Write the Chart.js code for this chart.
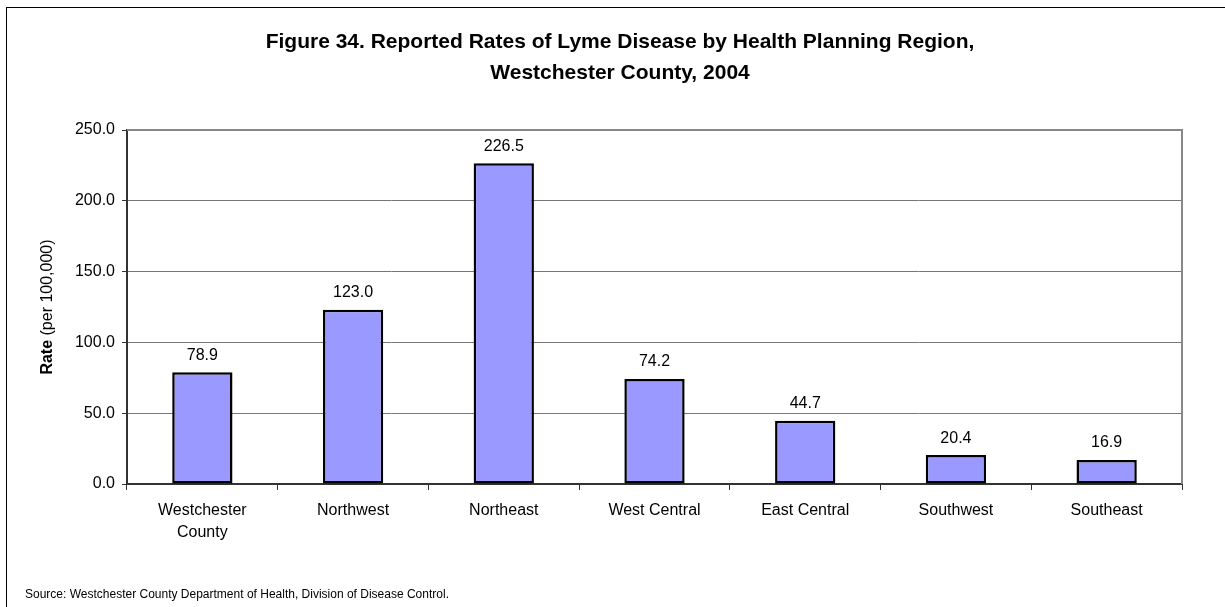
<!DOCTYPE html>
<html>
<head>
<meta charset="utf-8">
<script src="https://cdn.jsdelivr.net/npm/chart.js@4.4.1/dist/chart.umd.min.js"></script>
<style>
  html, body { margin: 0; padding: 0; background: #fff; }
  #wrap { width: 1225px; height: 607px; }
</style>
</head>
<body>
<div id="wrap"><canvas id="lymeChart" width="1225" height="607"></canvas></div>
<script>
// chart data
const regions = [['Westchester', 'County'], 'Northwest', 'Northeast', 'West Central', 'East Central', 'Southwest', 'Southeast'];
const rates = [78.9, 123.0, 226.5, 74.2, 44.7, 20.4, 16.9];
const yTicks = [0, 50, 250];
const titleLines = ['Figure 34. Reported Rates of Lyme Disease by Health Planning Region,', 'Westchester County, 2004'];
const sourceNote = 'Source: Westchester County Department of Health, Division of Disease Control.';

const FONT = "'Liberation Sans', Arial, sans-serif";

// frame, title, plot box, y-axis title, value labels and source line
const extrasPlugin = {
  id: 'extras',
  afterDraw(chart) {
    const ctx = chart.ctx;
    const area = chart.chartArea;
    ctx.save();

    // outer frame (only top/left visible in the picture)
    ctx.strokeStyle = '#000';
    ctx.lineWidth = 1;
    ctx.strokeRect(6.5, 7.5, 1400, 800);

    // title, centred on the page rather than the plot
    ctx.fillStyle = '#000';
    ctx.font = 'bold 21px ' + FONT;
    ctx.textAlign = 'center';
    ctx.textBaseline = 'middle';
    titleLines.forEach((line, i) => ctx.fillText(line, 620, 42 + i * 31));

    // plot area top + right edge
    ctx.strokeStyle = '#888';
    ctx.lineWidth = 2;
    ctx.beginPath();
    ctx.moveTo(area.left, area.top);
    ctx.lineTo(area.right, area.top);
    ctx.lineTo(area.right, area.bottom);
    ctx.stroke();

    // value labels above bars
    ctx.font = '16px ' + FONT;
    ctx.textBaseline = 'bottom';
    const meta = chart.getDatasetMeta(0);
    meta.data.forEach((bar, i) => {
      ctx.fillText(rates[i].toFixed(1), bar.x, bar.y - 9);
    });

    // y axis title: bold "Rate" + normal rest
    ctx.translate(48, (area.top + area.bottom) / 2);
    ctx.rotate(-Math.PI / 2);
    ctx.textBaseline = 'middle';
    ctx.textAlign = 'left';
    ctx.font = 'bold 16px ' + FONT;
    const w1 = ctx.measureText('Rate').width;
    ctx.font = '16px ' + FONT;
    const w2 = ctx.measureText(' (per 100,000)').width;
    const x0 = -(w1 + w2) / 2;
    ctx.font = 'bold 16px ' + FONT;
    ctx.fillText('Rate', x0, 0);
    ctx.font = '16px ' + FONT;
    ctx.fillText(' (per 100,000)', x0 + w1, 0);
    ctx.setTransform(1, 0, 0, 1, 0, 0);

    // source note
    ctx.font = '12px ' + FONT;
    ctx.fillText(sourceNote, 25, 595);

    ctx.restore();
  }
};

const ctx = document.getElementById('lymeChart').getContext('2d');
new Chart(ctx, {
  type: 'bar',
  data: {
    labels: regions,
    datasets: [{
      data: rates,
      backgroundColor: '#9999FF',
      borderColor: '#000',
      borderWidth: 2.5,
      borderSkipped: false,
      categoryPercentage: 1.0,
      barPercentage: 0.4
    }]
  },
  options: {
    responsive: false,
    animation: false,
    layout: { padding: { left: 0, right: 43, top: 130, bottom: 0 } },
    plugins: {
      legend: { display: false },
      tooltip: { enabled: false },
      title: { display: false }
    },
    scales: {
      x: {
        afterFit: (s) => { s.height = 123; },
        grid: { display: true, drawOnChartArea: false, offset: true, tickLength: 6, color: '#333', tickColor: '#333' },
        border: { color: '#333', width: 2 },
        ticks: { color: '#000', font: { family: FONT, size: 16, lineHeight: 1.4 }, padding: 9, maxRotation: 0 }
      },
      y: {
        min: yTicks[0],
        max: yTicks[2],
        afterFit: (s) => { s.width = 127; },
        grid: { color: '#777', lineWidth: 1, tickLength: 5, tickColor: '#333' },
        border: { color: '#333', width: 2 },
        ticks: {
          stepSize: yTicks[1],
          color: '#000',
          padding: 7,
          font: { family: FONT, size: 16 },
          callback: (v) => v.toFixed(1)
        }
      }
    }
  },
  plugins: [extrasPlugin]
});
</script>
</body>
</html>
